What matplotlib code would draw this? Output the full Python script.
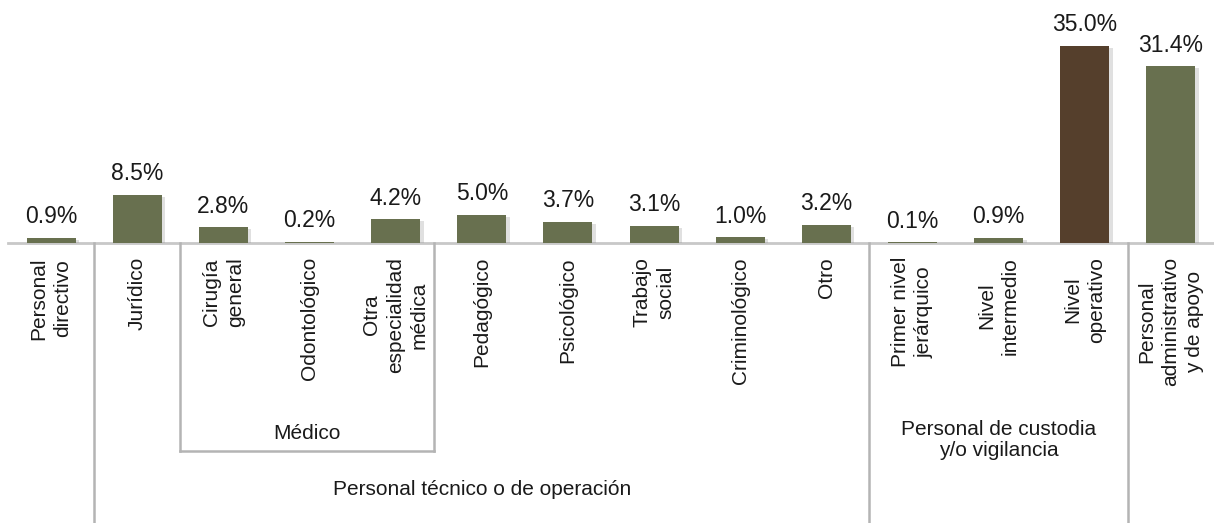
import matplotlib
matplotlib.use('Agg')
import matplotlib.pyplot as plt
import matplotlib.patheffects as pe

plt.rcParams['font.family'] = ['Liberation Sans', 'DejaVu Sans']

categories = ['Personal\ndirectivo', 'Jurídico', 'Cirugía\ngeneral', 'Odontológico',
              'Otra\nespecialidad\nmédica', 'Pedagógico', 'Psicológico', 'Trabajo\nsocial',
              'Criminológico', 'Otro', 'Primer nivel\njerárquico', 'Nivel\nintermedio',
              'Nivel\noperativo', 'Personal\nadministrativo\ny de apoyo']
values = [0.9, 8.5, 2.8, 0.2, 4.2, 5.0, 3.7, 3.1, 1.0, 3.2, 0.1, 0.9, 35.0, 31.4]
highlight = 'Nivel\noperativo'

green = '#68704F'
brown = '#553F2C'
grid_gray = '#B4B4B4'

W, H = 1214, 523
fig = plt.figure(figsize=(W / 100, H / 100), dpi=100)
base_px = 243
ax = fig.add_axes([8 / W, (H - base_px) / H, (W - 8) / W, base_px / H])

colors = [brown if c == highlight else green for c in categories]
x = list(range(len(categories)))
bars = ax.bar(x, values, width=0.57, color=colors, zorder=3)
for b in bars:
    b.set_path_effects([pe.SimplePatchShadow(offset=(2.5, -1.5), shadow_rgbFace='#999999', alpha=0.3),
                        pe.Normal()])

ax.set_xlim(-0.5, len(categories) - 0.5)
ax.set_ylim(0, 43.2)
ax.axis('off')

# value labels
for xi, v in zip(x, values):
    ax.annotate(f'{v:.1f}%', (xi, v), xytext=(0, 7), textcoords='offset points',
                ha='center', va='bottom', fontsize=16.5, color='#1a1a1a')

# baseline
ax.axhline(0, color='#C8C8C8', lw=2, zorder=2, clip_on=False)

# category labels
tr = ax.get_xaxis_transform()
for xi, c in zip(x, categories):
    ax.text(xi, -0.058, c, rotation=90, ha='center', va='top', multialignment='center',
            fontsize=15, transform=tr, color='#1a1a1a', linespacing=1.32)

# group separators
def vline(xv, y0, y1):
    ax.plot([xv, xv], [y0, y1], color=grid_gray, lw=1.8, transform=tr, clip_on=False)

bottom = -1.15
vline(0.5, 0, bottom)
vline(9.5, 0, bottom)
vline(12.5, 0, bottom)

# Médico box
med_l, med_r, med_b = 1.5, 4.45, -0.856
vline(med_l, 0, med_b)
vline(med_r, 0, med_b)
ax.plot([med_l, med_r], [med_b, med_b], color=grid_gray, lw=1.8, transform=tr, clip_on=False)

# group labels
ax.text((med_l + med_r) / 2, -0.783, 'Médico', ha='center', va='center', fontsize=15,
        transform=tr, color='#1a1a1a')
ax.text(5.0, -1.013, 'Personal técnico o de operación', ha='center', va='center', fontsize=15,
        transform=tr, color='#1a1a1a')
ax.text(11.0, -0.81, 'Personal de custodia\ny/o vigilancia', ha='center', va='center',
        fontsize=15, transform=tr, color='#1a1a1a', linespacing=1.15)

fig.savefig('out.png', dpi=100)
